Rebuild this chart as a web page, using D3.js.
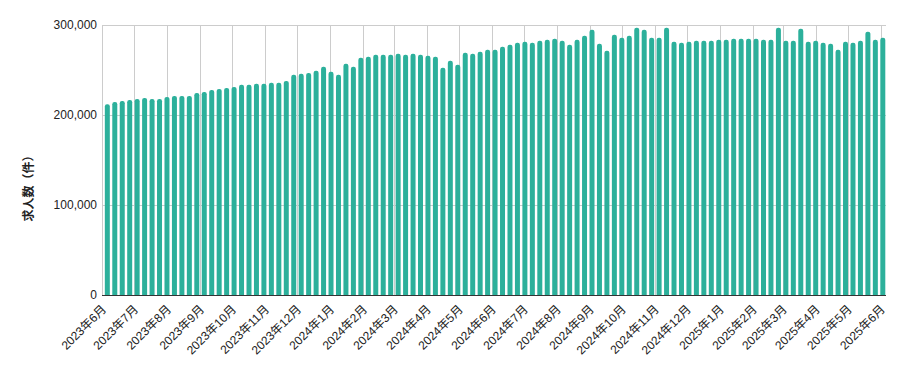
<!DOCTYPE html>
<html lang="ja">
  <head>
    <meta charset="utf-8">
    <title>求人数の推移</title>
    <style>
      body {
        margin: 0;
        background: #fff;
      }
      svg text {
        font-family: Arial, "Liberation Sans", "Noto Sans CJK JP", sans-serif;
        font-size: 12px;
        fill: #222;
      }
      .grid line {
        stroke: #ccc;
        stroke-width: 1px;
        shape-rendering: crispEdges;
      }
      .bar {
        fill: #2cb09b;
      }
      .baseline {
        stroke: #333;
        stroke-width: 1px;
        shape-rendering: crispEdges;
      }
      .ylabel {
        font-weight: bold;
      }
    </style>
  </head>
  <body>
    <svg id="chart"></svg>

    <script src="https://cdn.jsdelivr.net/npm/d3@7"></script>
    <script>

      // weekly job counts, first week starting 2023-06-06
      var firstWeek = "2023-06-06";
      var jobCounts = [
        211900, 214500, 215600, 216700, 217800, 219000, 217800, 217800, 220100, 221200,
        221200, 221200, 224500, 225600, 227900, 229000, 230100, 231200, 233500, 233500,
        234600, 234600, 235700, 235700, 237900, 244600, 245700, 246800, 249100, 253500,
        248000, 244600, 256900, 253500, 263600, 264700, 266900, 266900, 266900, 268000,
        266900, 268000, 266900, 265800, 264700, 252400, 260200, 255800, 269100, 268000,
        270300, 272500, 272500, 275800, 278100, 280300, 281400, 280300, 282500, 283600,
        284800, 282500, 278100, 283600, 288100, 294800, 279200, 271400, 289200, 285900,
        288100, 297000, 294800, 285900, 285900, 297000, 281400, 280300, 281400, 282500,
        282500, 282500, 283600, 283600, 284800, 284800, 284800, 284800, 283600, 283600,
        297000, 282500, 282500, 295900, 281400, 282500, 280300, 279200, 272500, 281400,
        280300, 282500, 292600, 283600, 285900
      ];
      var yTicks = [0, 100000, 200000, 300000];
      var axisStart = "2023-06-01",
          axisEnd = "2025-06-06";
      var yTitle = "求人数（件）";

      var width = 905,
          height = 371,
          margin = {top: 25, right: 19, bottom: 76, left: 102};

      var parseDay = d3.utcParse("%Y-%m-%d");
      var start = parseDay(firstWeek);
      var weeks = jobCounts.map(function(v, i) {
        return {date: d3.utcDay.offset(start, 7 * i), value: v};
      });

      var x = d3.scaleUtc()
          .domain([parseDay(axisStart), parseDay(axisEnd)])
          .range([margin.left, width - margin.right]);

      var y = d3.scaleLinear()
          .domain([0, 300000])
          .range([height - margin.bottom, margin.top]);

      var monthTicks = d3.utcMonth.range(parseDay(axisStart), d3.utcDay.offset(parseDay(axisEnd), 1));
      var monthFormat = d3.utcFormat("%Y年%-m月");

      var svg = d3.select("#chart")
          .attr("width", width)
          .attr("height", height);

      // gridlines
      var grid = svg.append("g").attr("class", "grid");
      grid.selectAll(".vgrid")
          .data(monthTicks)
          .enter().append("line")
          .attr("x1", function(d) { return Math.round(x(d)) + 0.5; })
          .attr("x2", function(d) { return Math.round(x(d)) + 0.5; })
          .attr("y1", y(300000))
          .attr("y2", y(0));
      grid.selectAll(".hgrid")
          .data(yTicks.slice(1))
          .enter().append("line")
          .attr("x1", margin.left)
          .attr("x2", width - margin.right)
          .attr("y1", function(d) { return Math.round(y(d)) + 0.5; })
          .attr("y2", function(d) { return Math.round(y(d)) + 0.5; });

      // bars with rounded tops
      var barW = 5, r = 2.2;
      function barPath(d) {
        var x0 = x(d.date) - barW / 2,
            y0 = y(d.value),
            y1 = y(0);
        return "M" + x0 + "," + y1 +
          "V" + (y0 + r) +
          "Q" + x0 + "," + y0 + " " + (x0 + r) + "," + y0 +
          "H" + (x0 + barW - r) +
          "Q" + (x0 + barW) + "," + y0 + " " + (x0 + barW) + "," + (y0 + r) +
          "V" + y1 + "Z";
      }
      svg.append("g")
          .selectAll("path")
          .data(weeks)
          .enter().append("path")
          .attr("class", "bar")
          .attr("d", barPath);

      svg.append("line")
          .attr("class", "baseline")
          .attr("x1", margin.left)
          .attr("x2", width - margin.right)
          .attr("y1", Math.round(y(0)) + 0.5)
          .attr("y2", Math.round(y(0)) + 0.5);

      // y tick labels
      svg.append("g")
          .selectAll("text")
          .data(yTicks)
          .enter().append("text")
          .attr("x", margin.left - 5)
          .attr("y", function(d) { return y(d); })
          .attr("dy", "0.35em")
          .attr("text-anchor", "end")
          .text(d3.format(","));

      // x tick labels, rotated
      svg.append("g")
          .selectAll("text")
          .data(monthTicks)
          .enter().append("text")
          .attr("transform", function(d) {
            return "translate(" + (x(d) + 2) + "," + (y(0) + 12) + ") rotate(-45)";
          })
          .attr("dy", "0.35em")
          .attr("text-anchor", "end")
          .text(monthFormat);

      svg.append("text")
          .attr("class", "ylabel")
          .attr("transform", "translate(29," + (height / 2) + ") rotate(-90)")
          .attr("dy", "0.35em")
          .attr("text-anchor", "middle")
          .text(yTitle);

    </script>
  </body>
</html>
